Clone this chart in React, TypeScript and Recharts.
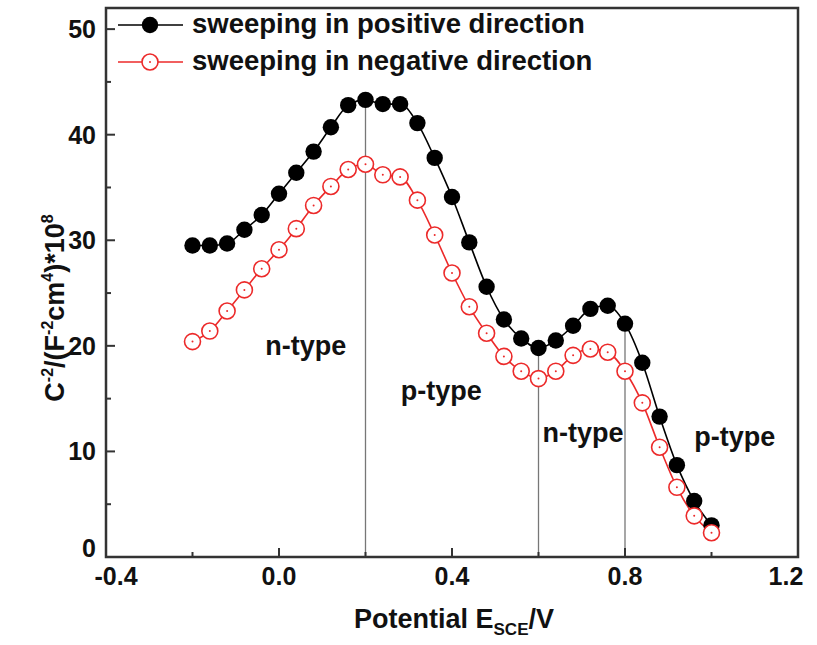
import React from 'react';
import {
  ComposedChart,
  Line,
  XAxis,
  YAxis,
  ReferenceLine,
  ReferenceArea,
  ReferenceDot,
  Legend,
} from 'recharts';

// ---- data ----
const potentials = [
  -0.2, -0.16, -0.12, -0.08, -0.04, 0.0, 0.04, 0.08, 0.12, 0.16, 0.2, 0.24, 0.28,
  0.32, 0.36, 0.4, 0.44, 0.48, 0.52, 0.56, 0.6, 0.64, 0.68, 0.72, 0.76, 0.8, 0.84,
  0.88, 0.92, 0.96, 1.0,
];
const positiveSweep = [
  29.5, 29.5, 29.7, 31.0, 32.4, 34.4, 36.4, 38.4, 40.7, 42.8, 43.3, 42.9, 42.9,
  41.1, 37.8, 34.1, 29.8, 25.6, 22.5, 20.7, 19.8, 20.5, 21.9, 23.5, 23.8, 22.1, 18.4,
  13.3, 8.7, 5.3, 3.0,
];
const negativeSweep = [
  20.4, 21.4, 23.3, 25.3, 27.3, 29.1, 31.1, 33.3, 35.1, 36.7, 37.2, 36.2, 36.0,
  33.8, 30.5, 26.9, 23.7, 21.2, 19.0, 17.6, 16.9, 17.6, 19.1, 19.7, 19.4, 17.6, 14.6,
  10.4, 6.6, 3.9, 2.3,
];
const xTicks = [-0.4, -0.2, 0, 0.2, 0.4, 0.6, 0.8, 1.0, 1.2];
const xMajorTicks = [-0.4, 0, 0.4, 0.8, 1.2];
const yTicks = [0, 5, 10, 15, 20, 25, 30, 35, 40, 45, 50];
const yMajorTicks = [0, 10, 20, 30, 40, 50];
const boundaryX = [0.2, 0.6, 0.8];
const boundaryTop = [43.3, 19.8, 22.1];
const regionText = ['n-type', 'p-type', 'n-type', 'p-type'];
const regionX = [0.062, 0.375, 0.703, 1.054];
const regionY = [19.1, 14.9, 10.9, 10.5];
const seriesNames = ['sweeping in positive direction', 'sweeping in negative direction'];

const data = potentials.map((x, i) => ({ x, pos: positiveSweep[i], neg: negativeSweep[i] }));

const FONT = '"Liberation Sans", Arial, Helvetica, sans-serif';
const RED = '#ec2a2a';
const AXIS = '#333';

const isMajor = (list: number[], v: number) => list.some((m) => Math.abs(m - v) < 1e-6);

const XTick = (props: any) => {
  const { x, y, payload } = props;
  const v = payload.value;
  const major = isMajor(xMajorTicks, v);
  // end labels sit slightly inside the frame, as in the reference
  const shift = Math.abs(v + 0.4) < 1e-6 ? 10 : Math.abs(v - 1.2) < 1e-6 ? -12 : 0;
  return (
    <g>
      <line x1={x} x2={x} y1={y} y2={y - (major ? 9 : 5)} stroke={AXIS} strokeWidth={2} />
      {major && (
        <text x={x + shift} y={y + 28} textAnchor="middle" fontFamily={FONT} fontWeight="bold" fontSize={25} fill="#111">
          {v.toFixed(1)}
        </text>
      )}
    </g>
  );
};

const YTick = (props: any) => {
  const { x, y, payload } = props;
  const v = payload.value;
  const major = isMajor(yMajorTicks, v);
  const lift = v === 0 ? -9 : 0;
  return (
    <g>
      <line x1={x} x2={x + (major ? 9 : 5)} y1={y} y2={y} stroke={AXIS} strokeWidth={2} />
      {major && (
        <text x={x - 10} y={y + 9 + lift} textAnchor="end" fontFamily={FONT} fontWeight="bold" fontSize={25} fill="#111">
          {String(v)}
        </text>
      )}
    </g>
  );
};

const RedDot = (props: any) => {
  const { cx, cy } = props;
  if (cx == null || cy == null) return <g />;
  return (
    <g>
      <circle cx={cx} cy={cy} r={8} fill="#fff" stroke={RED} strokeWidth={1.6} />
      <circle cx={cx} cy={cy} r={1} fill={RED} />
    </g>
  );
};

const BlackDot = (props: any) => {
  const { cx, cy } = props;
  if (cx == null || cy == null) return <g />;
  return <circle cx={cx} cy={cy} r={8.2} fill="#000" />;
};

const YTitle = () => (
  <text
    x={64}
    y={308}
    transform="rotate(-90, 64, 308)"
    textAnchor="middle"
    fontFamily={FONT}
    fontWeight="bold"
    fontSize={27}
    fill="#111"
  >
    C
    <tspan dy={-11} fontSize={16}>-2</tspan>
    <tspan dy={11}>/(F</tspan>
    <tspan dy={-11} fontSize={16}>-2</tspan>
    <tspan dy={11}>cm</tspan>
    <tspan dy={-11} fontSize={16}>4</tspan>
    <tspan dy={11}>)*10</tspan>
    <tspan dy={-11} fontSize={16}>8</tspan>
  </text>
);

const XTitle = () => (
  <text x={454} y={628} textAnchor="middle" fontFamily={FONT} fontWeight="bold" fontSize={27} fill="#111">
    Potential E
    <tspan dy={7} fontSize={17}>SCE</tspan>
    <tspan dy={-7}>/V</tspan>
  </text>
);

const LegendContent = () => {
  const rows = [25, 62];
  return (
    <svg width={640} height={90} style={{ display: 'block', overflow: 'visible' }}>
      {seriesNames.map((name, i) => {
        const cy = rows[i];
        const color = i === 0 ? '#000' : RED;
        return (
          <g key={name}>
            <line x1={118} x2={183} y1={cy} y2={cy} stroke={color} strokeWidth={1.6} />
            {i === 0 ? (
              <circle cx={150} cy={cy} r={8.2} fill="#000" />
            ) : (
              <g>
                <circle cx={150} cy={cy} r={8} fill="#fff" stroke={RED} strokeWidth={1.6} />
                <circle cx={150} cy={cy} r={1} fill={RED} />
              </g>
            )}
            <text x={192} y={cy + 8} fontFamily={FONT} fontWeight="bold" fontSize={27.5} fill="#111">
              {name}
            </text>
          </g>
        );
      })}
    </svg>
  );
};

export default function App() {
  return (
    <div style={{ position: 'absolute', left: 0, top: 0, width: 817, height: 645, background: '#fff' }}>
      <ComposedChart
        width={817}
        height={645}
        data={data}
        margin={{ top: 8, right: 19, bottom: 28, left: 46 }}
      >
        <XAxis
          dataKey="x"
          type="number"
          domain={[-0.4, 1.2]}
          ticks={xTicks}
          interval={0}
          tick={<XTick />}
          tickLine={false}
          tickSize={0}
          tickMargin={0}
          axisLine={false}
          height={60}
          allowDataOverflow
          label={<XTitle />}
        />
        <YAxis
          type="number"
          domain={[0, 52]}
          ticks={yTicks}
          interval={0}
          tick={<YTick />}
          tickLine={false}
          tickSize={0}
          tickMargin={0}
          axisLine={false}
          width={60}
          allowDataOverflow
          label={<YTitle />}
        />
        {boundaryX.map((bx, i) => (
          <ReferenceLine
            key={`b${i}`}
            segment={[
              { x: bx, y: 0 },
              { x: bx, y: boundaryTop[i] },
            ]}
            stroke="#777"
            strokeWidth={1.3}
          />
        ))}
        <Line
          dataKey="pos"
          type="monotone"
          stroke="#000"
          strokeWidth={1.6}
          dot={<BlackDot />}
          activeDot={false}
          isAnimationActive={false}
        />
        <Line
          dataKey="neg"
          type="monotone"
          stroke={RED}
          strokeWidth={1.6}
          dot={<RedDot />}
          activeDot={false}
          isAnimationActive={false}
        />
        {regionText.map((t, i) => (
          <ReferenceDot
            key={`r${i}`}
            x={regionX[i]}
            y={regionY[i]}
            r={0}
            shape={(p: any) => (
              <text x={p.cx} y={p.cy} textAnchor="middle" fontFamily={FONT} fontWeight="bold" fontSize={27} fill="#111">
                {t}
              </text>
            )}
          />
        ))}
        <ReferenceArea
          x1={-0.4}
          x2={1.2}
          y1={0}
          y2={52}
          fill="none"
          fillOpacity={0}
          stroke={AXIS}
          strokeWidth={2.5}
          ifOverflow="visible"
        />
        <Legend
          content={<LegendContent />}
          layout="horizontal"
          verticalAlign="middle"
          align="center"
          wrapperStyle={{ position: 'absolute', left: 0, top: 0, width: 640, height: 90 }}
        />
      </ComposedChart>
    </div>
  );
}
